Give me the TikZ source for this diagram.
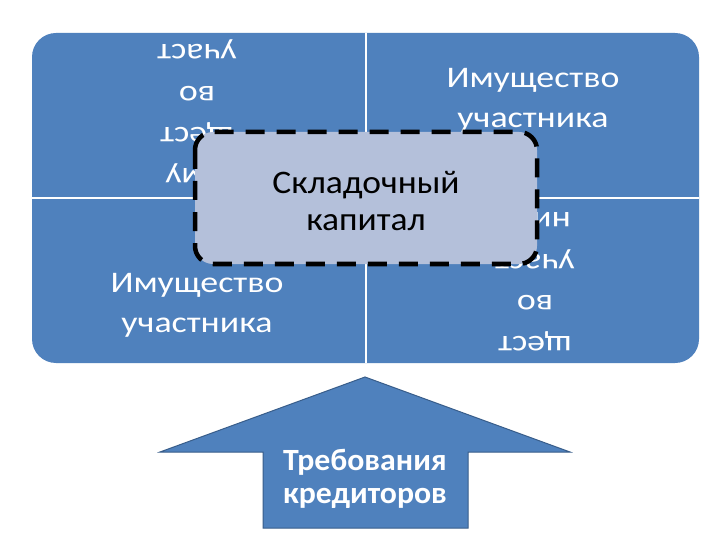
\documentclass[tikz,border=0pt]{standalone}
\usepackage{fontspec}
\setmainfont{Carlito}
\newfontfamily\qfont[FakeStretch=1.2]{Carlito}
\newfontfamily\cfont[FakeStretch=1.08]{Carlito}
\newfontfamily\afont[FakeStretch=1.03]{Carlito}
\begin{document}
\begin{tikzpicture}[x=1bp,y=-1bp,
  quadfill/.style={fill=qblue},
  sepline/.style={draw=white,line width=2.2bp},
  qtext/.style={text=white,align=center,font=\qfont\fontsize{30}{40}\selectfont},
  rtext/.style={text=white,align=center,rotate=180,font=\qfont\fontsize{30}{41.5}\selectfont},
  capbox/.style={fill=capfill,draw=black,line width=4.5bp,dash pattern=on 19bp off 12bp,rounded corners=18bp},
  captext/.style={text=black,align=center,font=\cfont\fontsize{33}{37}\selectfont},
  arrowshape/.style={fill=qblue,draw=qborder,line width=1bp,line join=miter},
  arrtext/.style={text=white,align=center,font=\afont\bfseries\fontsize{31}{33.5}\selectfont}]
\definecolor{qblue}{HTML}{4F81BD}
\definecolor{qborder}{HTML}{385D8A}
\definecolor{capfill}{HTML}{B4C0DA}
\useasboundingbox (0,0) rectangle (720,540);
\fill[white] (0,0) rectangle (720,540);
% matrix background
\fill[quadfill,rounded corners=24bp] (32,33) rectangle (699,363);
\coordinate (vtop) at (366,33);
\coordinate (vbot) at (366,363);
\coordinate (hleft) at (32,198);
\coordinate (hright) at (699,198);
\draw[sepline] (vtop) -- (vbot);
\draw[sepline] (hleft) -- (hright);
% quadrant texts
\node[rtext] (tl) at (197,114) {Иму\\щест\\во\\участ};
\node[qtext] (tr) at (533,100) {Имущество\\участника};
\node[qtext] (bl) at (197,305) {Имущество\\участника};
\node[rtext] (br) at (535,282) {щест\\во\\участ\\ника};
% central box
\draw[capbox] (195,132) rectangle (537,264);
\node[captext] (cap) at (366,201) {Складочный\\капитал};
% arrow
\draw[arrowshape] (365,377) -- (570,452) -- (468,452) -- (468,528) -- (263,528) -- (263,452) -- (160,452) -- cycle;
\node[arrtext] (req) at (365,479) {Требования\\кредиторов};
\end{tikzpicture}
\end{document}
